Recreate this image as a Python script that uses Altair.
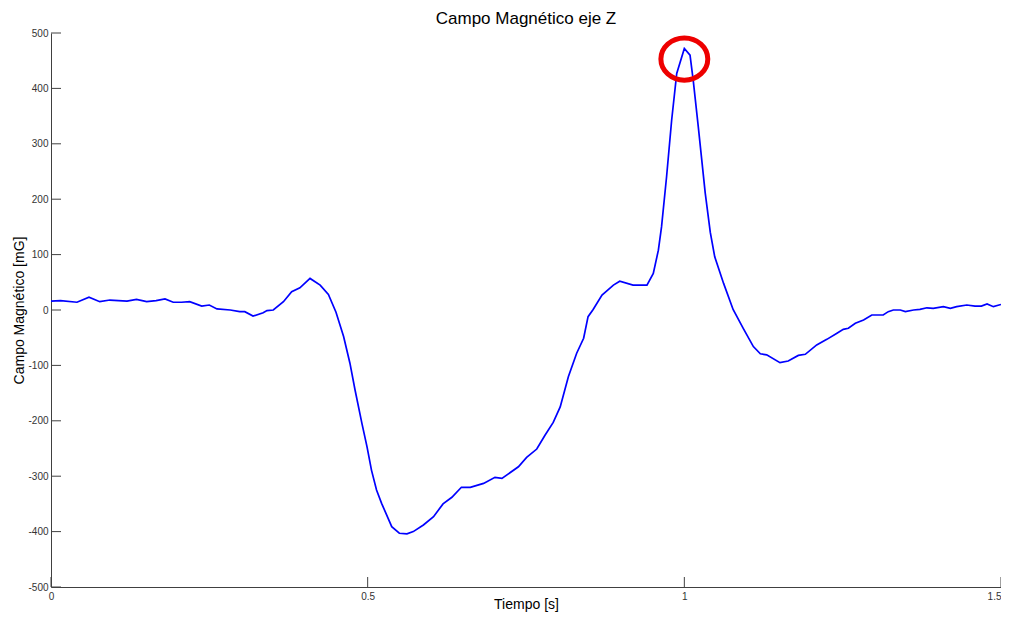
import altair as alt
import pandas as pd

# Time (s) and Z magnetic field (mG)
tiempo = [0.000, 0.015, 0.041, 0.060, 0.077, 0.093, 0.120, 0.135, 0.151, 0.166,
          0.180, 0.193, 0.206, 0.219, 0.238, 0.250, 0.262, 0.283, 0.298, 0.306,
          0.319, 0.335, 0.341, 0.351, 0.367, 0.380, 0.393, 0.409, 0.425, 0.438,
          0.450, 0.462, 0.472, 0.480, 0.491, 0.499, 0.506, 0.514, 0.522, 0.538,
          0.550, 0.562, 0.572, 0.588, 0.604, 0.619, 0.633, 0.648, 0.662, 0.683,
          0.701, 0.712, 0.738, 0.751, 0.767, 0.780, 0.793, 0.804, 0.817, 0.830,
          0.841, 0.848, 0.856, 0.870, 0.888, 0.898, 0.919, 0.941, 0.951, 0.959,
          0.964, 0.972, 0.980, 0.988, 1.000, 1.009, 1.014, 1.022, 1.033, 1.041,
          1.048, 1.062, 1.077, 1.093, 1.109, 1.120, 1.130, 1.151, 1.164, 1.180,
          1.191, 1.209, 1.225, 1.241, 1.251, 1.259, 1.270, 1.283, 1.296, 1.314,
          1.322, 1.330, 1.341, 1.349, 1.362, 1.372, 1.383, 1.393, 1.409, 1.420,
          1.430, 1.446, 1.459, 1.469, 1.478, 1.488, 1.500]
campo = [16, 17, 14, 23, 15, 18, 16, 19, 15, 17,
         20, 14, 14, 15, 7, 9, 2, 0, -3, -3,
         -11, -5, -1, 0, 15, 33, 40, 57, 45, 28,
         -4, -48, -96, -144, -205, -247, -289, -325, -349, -391,
         -403, -404, -400, -388, -373, -350, -338, -320, -320, -313,
         -302, -304, -283, -266, -251, -226, -203, -175, -120, -78,
         -51, -12, 1, 27, 45, 52, 45, 45, 66, 108,
         150, 241, 343, 427, 472, 460, 415, 331, 211, 140,
         96, 48, 1, -33, -66, -79, -81, -95, -92, -82,
         -80, -63, -53, -42, -35, -33, -24, -18, -9, -9,
         -3, 0, 0, -3, 0, 1, 4, 3, 6, 3,
         6, 9, 7, 7, 11, 6, 10]

x_ticks = [0, 0.5, 1, 1.5]
y_ticks = [-500, -400, -300, -200, -100, 0, 100, 200, 300, 400, 500]

# Highlight circle around the peak
circle_t = [1.0]
circle_v = [453]

title_text = ["Campo Magnético eje Z"]

FONT = "Liberation Sans"
AXIS_GRAY = "#404040"

df = pd.DataFrame({"t": tiempo, "v": campo})
xs = alt.Scale(domain=[0, 1.5], nice=False, zero=False)
ys = alt.Scale(domain=[-500, 500], nice=False, zero=False)

line = alt.Chart(df).mark_line(color="#0000ff", strokeWidth=1.7).encode(
    x=alt.X("t:Q", scale=xs, title="Tiempo [s]",
            axis=alt.Axis(values=x_ticks, labelExpr="'' + datum.value", ticks=False,
                          grid=False, domainColor=AXIS_GRAY, labelColor="#333333",
                          labelFont=FONT, labelFontSize=10, labelPadding=4,
                          labelFlush=False,
                          labelAlign={"condition": {"test": "datum.value >= 1.5", "value": "right"},
                                      "value": "center"},
                          titleFont=FONT, titleFontSize=14, titleFontWeight="normal",
                          titleColor="#000000", titleBaseline="alphabetic", titleY=21)),
    y=alt.Y("v:Q", scale=ys, title="Campo Magnético [mG]",
            axis=alt.Axis(values=y_ticks, labelExpr="'' + datum.value", ticks=False,
                          grid=False, domainColor=AXIS_GRAY, labelColor="#333333",
                          labelFont=FONT, labelFontSize=10, labelPadding=3,
                          labelFlush=False,
                          titleFont=FONT, titleFontSize=14, titleFontWeight="normal",
                          titleColor="#000000", titlePadding=1)),
)

ytick_layer = alt.Chart(pd.DataFrame({"yv": y_ticks})).mark_rule(
    color=AXIS_GRAY, strokeWidth=1).encode(
    y=alt.Y("yv:Q", scale=ys),
    x=alt.value(0), x2=alt.value(10),
)
xtick_layer = alt.Chart(pd.DataFrame({"xv": x_ticks})).mark_rule(
    color=AXIS_GRAY, strokeWidth=1).encode(
    x=alt.X("xv:Q", scale=xs),
    y=alt.value(554), y2=alt.value(544),
)

ellipse = "M-1,0 A1,0.9 0 1,0 1,0 A1,0.9 0 1,0 -1,0 Z"
circle = alt.Chart(pd.DataFrame({"ct": circle_t, "cv": circle_v})).mark_point(
    shape=ellipse, filled=False, color="#ee0000", strokeWidth=5, size=2200, opacity=1).encode(
    x=alt.X("ct:Q", scale=xs),
    y=alt.Y("cv:Q", scale=ys),
)

title = alt.Chart(pd.DataFrame({"label": title_text})).mark_text(
    font=FONT, fontSize=17, color="#000000", align="center", baseline="alphabetic").encode(
    text="label:N",
    x=alt.value(475), y=alt.value(-9),
)

chart = alt.layer(line, ytick_layer, xtick_layer, circle, title).properties(
    width=950, height=554,
    background="white",
    autosize=alt.AutoSizeParams(type="none"),
    padding={"left": 43, "top": 25, "right": 0, "bottom": 25},
).configure_view(stroke=None, strokeWidth=0)

chart.save("out.html", embed_options={"renderer": "svg", "actions": False})
